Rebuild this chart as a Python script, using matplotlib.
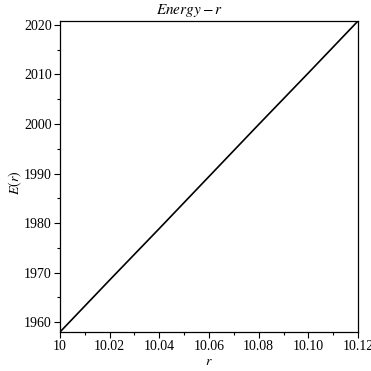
import numpy as np
import matplotlib
matplotlib.use('Agg')
import matplotlib.pyplot as plt
from matplotlib.ticker import MultipleLocator

# values
r_vals = [10.00, 10.02, 10.04, 10.06, 10.08, 10.10, 10.12]
E_vals = [1958.0, 1968.5, 1978.9, 1989.4, 1999.9, 2010.3, 2020.8]
x_ticks = [10.00, 10.02, 10.04, 10.06, 10.08, 10.10, 10.12]
x_labels = ['10', '10.02', '10.04', '10.06', '10.08', '10.10', '10.12']
y_ticks = [1960, 1970, 1980, 1990, 2000, 2010, 2020]

plt.rcParams['font.family'] = ['Liberation Serif', 'DejaVu Serif']
plt.rcParams['mathtext.fontset'] = 'stix'

fig = plt.figure(figsize=(3.71, 3.71), dpi=100)
ax = fig.add_axes([0.1617, 0.1051, 0.8033, 0.8383])

ax.plot(r_vals, E_vals, color='black', linewidth=1.2)

ax.set_xlim(r_vals[0], r_vals[-1])
ax.set_ylim(E_vals[0], E_vals[-1])

ax.set_xticks(x_ticks)
ax.set_xticklabels(x_labels)
ax.set_yticks(y_ticks)
ax.xaxis.set_minor_locator(MultipleLocator(0.01))
ax.yaxis.set_minor_locator(MultipleLocator(5))

ax.tick_params(which='major', direction='out', length=4, width=0.8, labelsize=10, pad=2)
ax.tick_params(which='minor', direction='out', length=2, width=0.8)
for s in ax.spines.values():
    s.set_linewidth(0.9)

# title sits a bit left of the axes centre in the reference
fig.text(0.512, 0.972, r'$Energy - r$', fontsize=11, ha='center', va='center')
ax.set_xlabel(r'$r$', fontsize=10, labelpad=1)
ax.set_ylabel(r'$E(r)$', fontsize=10)
ax.yaxis.set_label_coords(-0.12, 0.48)

fig.savefig('out.png', dpi=100)
